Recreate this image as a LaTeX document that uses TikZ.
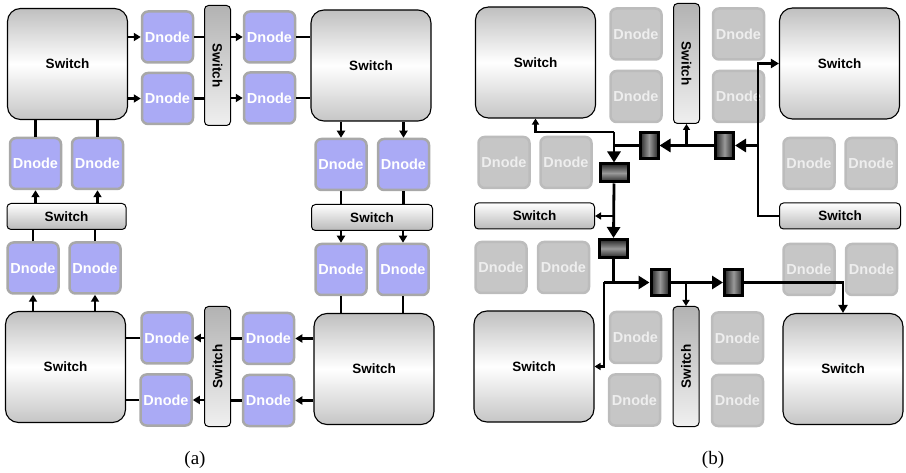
\documentclass[tikz,border=0pt]{standalone}
\usepackage{fontspec}
\setmainfont{Liberation Serif}
\newfontfamily\dnf{Liberation Sans}
\usetikzlibrary{arrows.meta}
\definecolor{dfill}{RGB}{170,170,245}
\definecolor{dborder}{RGB}{168,168,168}
\definecolor{gfill}{RGB}{198,198,198}
\definecolor{gborder}{RGB}{188,188,188}
\definecolor{gtext}{RGB}{238,238,238}
\begin{document}
\begin{tikzpicture}[x=1pt,y=-1pt,
  swfont/.style={font=\dnf\bfseries\fontsize{13.5}{15}\selectfont},
  bigsw/.style={draw=black, line width=1.1pt, rounded corners=13pt, minimum width=120pt, minimum height=111pt,
    top color=gray!50, bottom color=gray!45, middle color=white, swfont, inner sep=0pt},
  hbar/.style={draw=black, line width=1pt, rounded corners=4pt, minimum width=119pt, minimum height=26pt,
    top color=white, bottom color=gray!55, swfont, inner sep=0pt},
  vbar/.style={draw=black, line width=1pt, rounded corners=4pt, minimum width=26pt, minimum height=120pt,
    top color=gray!60, bottom color=gray!12, swfont, inner sep=0pt},
  dnode/.style={draw=dborder, fill=dfill, line width=2.5pt, rounded corners=6pt, minimum size=51pt,
    text=white, font=\dnf\bfseries\fontsize{14.5}{16}\selectfont, inner sep=0pt},
  gnode/.style={draw=gborder, fill=gfill, line width=2.5pt, rounded corners=6pt, minimum size=51pt,
    text=gtext, font=\dnf\bfseries\fontsize{14.5}{16}\selectfont, inner sep=0pt},
  kv/.style={draw=black, line width=3pt, minimum width=18pt, minimum height=26pt, inner sep=0pt,
    left color=black!85, right color=black!85, middle color=gray!80},
  kh/.style={draw=black, line width=3pt, minimum width=28pt, minimum height=18pt, inner sep=0pt,
    top color=black!85, bottom color=black!85, middle color=gray!80},
  conn/.style={line width=2.2pt},
  arr/.style={line width=2.2pt, -{Triangle[length=7pt,width=8pt]}},
  bline/.style={line width=2.8pt},
  barr/.style={line width=2.8pt, -{Triangle[length=11pt,width=13pt]}},
  marr/.style={line width=2.8pt, -{Triangle[length=8pt,width=9pt]}},
  sarr/.style={line width=2.2pt, -{Triangle[length=6pt,width=7pt]}},
  captext/.style={font=\fontsize{19}{22}\selectfont}
]
\useasboundingbox (0,0) rectangle (906,473);

%%%%%%%%%%%%%%%% panel (a)
\node[bigsw] (SA1) at (67.5,64) {Switch};
\node[bigsw] (SA2) at (371,65.5) {Switch};
\node[bigsw] (SA3) at (65.5,367) {Switch};
\node[bigsw] (SA4) at (374,369) {Switch};
\node[vbar] (VA1) at (217.5,65.5) {\rotatebox{-90}{Switch}};
\node[vbar] (VA2) at (217.5,366.5) {\rotatebox{90}{Switch}};
\node[hbar] (HA1) at (66.5,216.5) {Switch};
\node[hbar, minimum width=121pt] (HA2) at (372,217.5) {Switch};

\node[dnode] (DA1) at (167.5,37) {Dnode};
\node[dnode] (DA2) at (167.5,98.5) {Dnode};
\node[dnode] (DA3) at (269.5,37) {Dnode};
\node[dnode] (DA4) at (269.5,98) {Dnode};
\node[dnode] (DA5) at (35.5,163.5) {Dnode};
\node[dnode] (DA6) at (97.5,163.5) {Dnode};
\node[dnode] (DA7) at (33,268) {Dnode};
\node[dnode] (DA8) at (95,268) {Dnode};
\node[dnode] (DB1) at (341,164.5) {Dnode};
\node[dnode] (DB2) at (403.5,164.5) {Dnode};
\node[dnode] (DB3) at (341,269.5) {Dnode};
\node[dnode] (DB4) at (403,269.5) {Dnode};
\node[dnode] (DA9) at (167,338) {Dnode};
\node[dnode] (DA10) at (166,400) {Dnode};
\node[dnode] (DA11) at (268.5,338.5) {Dnode};
\node[dnode] (DA12) at (268.5,400.5) {Dnode};

\draw[arr] (SA1.east |- DA1) -- (DA1);
\draw[arr] (SA1.east |- DA2) -- (DA2);
\draw[conn] (DA1) -- (VA1.west |- DA1);
\draw[conn] (DA2) -- (VA1.west |- DA2);
\draw[arr] (VA1.east |- DA3) -- (DA3);
\draw[arr] (VA1.east |- DA4) -- (DA4);
\draw[conn] (DA3) -- (SA2.west |- DA3);
\draw[conn] (DA4) -- (SA2.west |- DA4);
\draw[arr] (SA2.south -| DB1) -- (DB1);
\draw[arr] (SA2.south -| DB2) -- (DB2);
\draw[conn] (DB1) -- (HA2.north -| DB1);
\draw[conn] (DB2) -- (HA2.north -| DB2);
\draw[arr] (HA2.south -| DB3) -- (DB3);
\draw[arr] (HA2.south -| DB4) -- (DB4);
\draw[conn] (DB3) -- (SA4.north -| DB3);
\draw[conn] (DB4) -- (SA4.north -| DB4);
\draw[arr] (SA4.west |- DA11) -- (DA11);
\draw[arr] (SA4.west |- DA12) -- (DA12);
\draw[conn] (DA11) -- (VA2.east |- DA11);
\draw[conn] (DA12) -- (VA2.east |- DA12);
\draw[arr] (VA2.west |- DA9) -- (DA9);
\draw[arr] (VA2.west |- DA10) -- (DA10);
\draw[conn] (DA9) -- (SA3.east |- DA9);
\draw[conn] (DA10) -- (SA3.east |- DA10);
\draw[arr] (SA3.north -| DA7) -- (DA7);
\draw[arr] (SA3.north -| DA8) -- (DA8);
\draw[conn] (DA7) -- (HA1.south -| DA7);
\draw[conn] (DA8) -- (HA1.south -| DA8);
\draw[arr] (HA1.north -| DA5) -- (DA5);
\draw[arr] (HA1.north -| DA6) -- (DA6);
\draw[conn] (DA5) -- (SA1.south -| DA5);
\draw[conn] (DA6) -- (SA1.south -| DA6);

\node[captext] (capa) at (195,460) {(a)};

%%%%%%%%%%%%%%%% panel (b)
\node[bigsw] (SB1) at (535.5,62.5) {Switch};
\node[bigsw] (SB2) at (839.5,63.5) {Switch};
\node[bigsw] (SB3) at (534,366.5) {Switch};
\node[bigsw] (SB4) at (843,369) {Switch};
\node[vbar] (VB1) at (686.5,63.5) {\rotatebox{-90}{Switch}};
\node[vbar] (VB2) at (686,366.5) {\rotatebox{90}{Switch}};
\node[hbar, minimum width=120pt] (HB1) at (534.5,216) {Switch};
\node[hbar, minimum width=121pt] (HB2) at (840,216) {Switch};

\node[gnode] (G1) at (636,34) {Dnode};
\node[gnode] (G2) at (636,96.5) {Dnode};
\node[gnode] (G3) at (738.5,34) {Dnode};
\node[gnode] (G4) at (738.5,96.5) {Dnode};
\node[gnode] (G5) at (504,162.5) {Dnode};
\node[gnode] (G6) at (566,162.5) {Dnode};
\node[gnode] (G7) at (809,163.5) {Dnode};
\node[gnode] (G8) at (871,163.5) {Dnode};
\node[gnode] (G9) at (501,267.5) {Dnode};
\node[gnode] (G10) at (563.5,267.5) {Dnode};
\node[gnode] (G11) at (809,269.5) {Dnode};
\node[gnode] (G12) at (871.5,269.5) {Dnode};
\node[gnode] (G13) at (635.5,337.5) {Dnode};
\node[gnode] (G14) at (634.5,400) {Dnode};
\node[gnode] (G15) at (737.5,338) {Dnode};
\node[gnode] (G16) at (737.5,400.5) {Dnode};

\coordinate (J1) at (758,145.5);
\coordinate (J1top) at (758,63.5);
\coordinate (B1) at (686.5,145.5);
\coordinate (J3) at (614,132);
\coordinate (J4) at (604,282.5);
\coordinate (B2) at (686,282.5);

\node[kv] (K1) at (649,145.5) {};
\node[kv] (K2) at (724.5,145.5) {};
\node[kh] (K3) at (614,173) {};
\node[kh] (K4) at (613.5,248.5) {};
\node[kv] (K5) at (660,282.5) {};
\node[kv] (K6) at (733.5,282.5) {};

\draw[marr] (HB2.west) -| (J1top) -- (SB2.west);
\draw[barr] (J1) -- (K2.east);
\draw[barr] (K2.west) -- (K1.east);
\draw[sarr] (B1) -- (VB1.south);
\draw[bline] (K1.west) -- (K1.west -| K3.north);
\draw[sarr] (J3) -| (SB1.south);
\draw[barr] (J3) -- (K3.north);
\draw[barr] (K3.south) -- (K4.north);
\draw[sarr] (K3.south |- HB1.east) -- (HB1.east);
\draw[barr] (K4.south) |- (K5.west);
\draw[bline] (J4) -- (K4.south |- J4);
\draw[sarr] (J4) |- (SB3.east);
\draw[barr] (K5.east) -- (K6.west);
\draw[sarr] (B2) -- (VB2.north);
\draw[marr] (K6.east) -| (SB4.north);

\node[captext] (capb) at (713,460) {(b)};
\end{tikzpicture}
\end{document}
